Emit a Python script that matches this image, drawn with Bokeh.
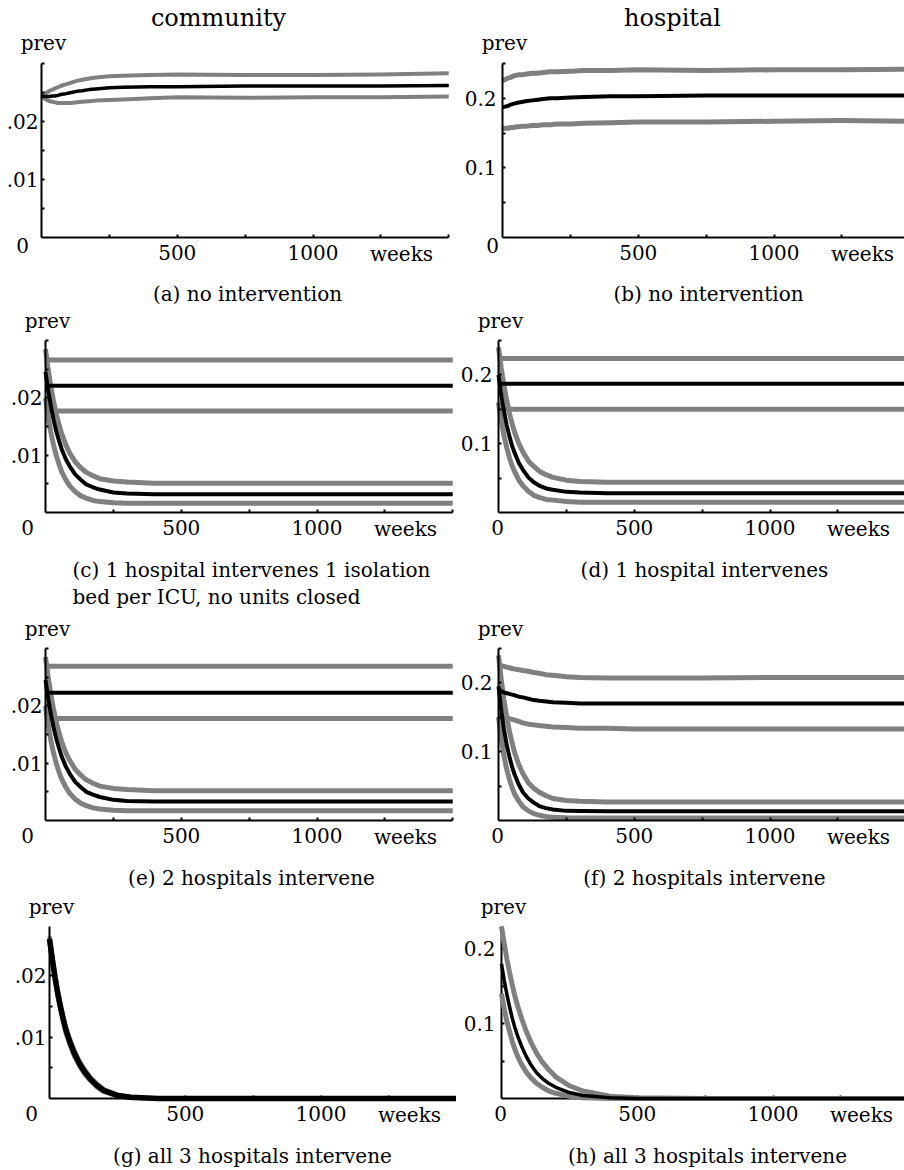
from bokeh.plotting import figure
from bokeh.layouts import column, row
from bokeh.models import Range1d, FixedTicker, Label
from bokeh.embed import file_html
from bokeh.resources import INLINE

# ---------------- data ----------------
WEEKS = [0, 10, 20, 30, 40, 50, 60, 75, 90, 110, 130, 150, 175, 200, 250, 300, 400, 500, 750, 1000, 1250, 1500]

# (a) community, no intervention
A_MID = [0.0244, 0.0243, 0.0243, 0.0243, 0.0244, 0.0244, 0.0245, 0.0247, 0.0248, 0.0250, 0.0252, 0.0253, 0.0255, 0.0256, 0.0258, 0.0259, 0.0260, 0.0260, 0.0261, 0.0261, 0.0261, 0.0262]
A_HI = [0.0244, 0.0247, 0.0250, 0.0253, 0.0255, 0.0257, 0.0259, 0.0262, 0.0264, 0.0267, 0.0270, 0.0272, 0.0274, 0.0276, 0.0278, 0.0279, 0.0280, 0.0281, 0.0280, 0.0280, 0.0281, 0.0283]
A_LO = [0.0244, 0.0240, 0.0237, 0.0235, 0.0234, 0.0233, 0.0232, 0.0232, 0.0232, 0.0232, 0.0233, 0.0234, 0.0235, 0.0236, 0.0237, 0.0238, 0.0240, 0.0242, 0.0241, 0.0242, 0.0242, 0.0243]

# (b) hospital, no intervention
B_MID = [0.187, 0.188, 0.189, 0.191, 0.192, 0.193, 0.194, 0.195, 0.196, 0.197, 0.198, 0.199, 0.200, 0.200, 0.201, 0.202, 0.203, 0.203, 0.204, 0.204, 0.204, 0.204]
B_HI = [0.225, 0.227, 0.229, 0.230, 0.232, 0.233, 0.234, 0.234, 0.235, 0.236, 0.236, 0.237, 0.238, 0.238, 0.239, 0.240, 0.240, 0.241, 0.240, 0.241, 0.241, 0.242]
B_LO = [0.156, 0.157, 0.157, 0.158, 0.158, 0.159, 0.159, 0.160, 0.160, 0.161, 0.161, 0.162, 0.162, 0.163, 0.163, 0.164, 0.165, 0.166, 0.166, 0.167, 0.168, 0.167]

# (c) community, 1 hospital intervenes
C_HI_OFF = [0.0266, 0.0266, 0.0266, 0.0266, 0.0266, 0.0266, 0.0266, 0.0266, 0.0266, 0.0266, 0.0266, 0.0266, 0.0266, 0.0266, 0.0266, 0.0266, 0.0266, 0.0266, 0.0266, 0.0266, 0.0266, 0.0266]
C_MID_OFF = [0.0221, 0.0221, 0.0221, 0.0221, 0.0221, 0.0221, 0.0221, 0.0221, 0.0221, 0.0221, 0.0221, 0.0221, 0.0221, 0.0221, 0.0221, 0.0221, 0.0221, 0.0221, 0.0221, 0.0221, 0.0221, 0.0221]
C_LO_OFF = [0.0177, 0.0177, 0.0177, 0.0177, 0.0177, 0.0177, 0.0177, 0.0177, 0.0177, 0.0177, 0.0177, 0.0177, 0.0177, 0.0177, 0.0177, 0.0177, 0.0177, 0.0177, 0.0177, 0.0177, 0.0177, 0.0177]
C_HI_ON = [0.0285, 0.0249, 0.0219, 0.0193, 0.0171, 0.0153, 0.0137, 0.0118, 0.0103, 0.0088, 0.0078, 0.0070, 0.0064, 0.0059, 0.0055, 0.0053, 0.0051, 0.0051, 0.0051, 0.0051, 0.0051, 0.0051]
C_MID_ON = [0.0245, 0.0212, 0.0185, 0.0161, 0.0141, 0.0125, 0.0110, 0.0093, 0.0080, 0.0066, 0.0057, 0.0049, 0.0044, 0.0040, 0.0035, 0.0033, 0.0032, 0.0032, 0.0032, 0.0032, 0.0032, 0.0032]
C_LO_ON = [0.0200, 0.0167, 0.0139, 0.0117, 0.0099, 0.0084, 0.0071, 0.0057, 0.0046, 0.0036, 0.0029, 0.0025, 0.0021, 0.0019, 0.0017, 0.0016, 0.0016, 0.0016, 0.0016, 0.0016, 0.0016, 0.0016]

# (d) hospital, 1 hospital intervenes
D_HI_OFF = [0.224, 0.224, 0.224, 0.224, 0.224, 0.224, 0.224, 0.224, 0.224, 0.224, 0.224, 0.224, 0.224, 0.224, 0.224, 0.224, 0.224, 0.224, 0.224, 0.224, 0.224, 0.224]
D_MID_OFF = [0.187, 0.187, 0.187, 0.187, 0.187, 0.187, 0.187, 0.187, 0.187, 0.187, 0.187, 0.187, 0.187, 0.187, 0.187, 0.187, 0.187, 0.187, 0.187, 0.187, 0.187, 0.187]
D_LO_OFF = [0.150, 0.150, 0.150, 0.150, 0.150, 0.150, 0.150, 0.150, 0.150, 0.150, 0.150, 0.150, 0.150, 0.150, 0.150, 0.150, 0.150, 0.150, 0.150, 0.150, 0.150, 0.150]
D_HI_ON = [0.240, 0.210, 0.185, 0.163, 0.145, 0.129, 0.116, 0.100, 0.088, 0.075, 0.067, 0.060, 0.055, 0.051, 0.047, 0.045, 0.044, 0.044, 0.044, 0.044, 0.044, 0.044]
D_MID_ON = [0.200, 0.171, 0.148, 0.127, 0.111, 0.097, 0.086, 0.072, 0.062, 0.051, 0.044, 0.039, 0.035, 0.033, 0.030, 0.029, 0.028, 0.028, 0.028, 0.028, 0.028, 0.028]
D_LO_ON = [0.160, 0.134, 0.112, 0.095, 0.080, 0.068, 0.059, 0.047, 0.039, 0.031, 0.025, 0.022, 0.019, 0.018, 0.016, 0.015, 0.015, 0.015, 0.015, 0.015, 0.015, 0.015]

# (e) community, 2 hospitals intervene
E_HI_OFF = [0.0269, 0.0269, 0.0269, 0.0269, 0.0269, 0.0269, 0.0269, 0.0269, 0.0269, 0.0269, 0.0269, 0.0269, 0.0269, 0.0269, 0.0269, 0.0269, 0.0269, 0.0269, 0.0269, 0.0269, 0.0269, 0.0269]
E_MID_OFF = [0.0223, 0.0223, 0.0223, 0.0223, 0.0223, 0.0223, 0.0223, 0.0223, 0.0223, 0.0223, 0.0223, 0.0223, 0.0223, 0.0223, 0.0223, 0.0223, 0.0223, 0.0223, 0.0223, 0.0223, 0.0223, 0.0223]
E_LO_OFF = [0.0178, 0.0178, 0.0178, 0.0178, 0.0178, 0.0178, 0.0178, 0.0178, 0.0178, 0.0178, 0.0178, 0.0178, 0.0178, 0.0178, 0.0178, 0.0178, 0.0178, 0.0178, 0.0178, 0.0178, 0.0178, 0.0178]
E_HI_ON = [0.0285, 0.0249, 0.0219, 0.0193, 0.0171, 0.0153, 0.0137, 0.0118, 0.0104, 0.0089, 0.0079, 0.0071, 0.0065, 0.0060, 0.0056, 0.0054, 0.0052, 0.0052, 0.0052, 0.0052, 0.0052, 0.0052]
E_MID_ON = [0.0245, 0.0212, 0.0185, 0.0162, 0.0142, 0.0126, 0.0111, 0.0094, 0.0081, 0.0067, 0.0058, 0.0050, 0.0045, 0.0041, 0.0036, 0.0034, 0.0033, 0.0033, 0.0033, 0.0033, 0.0033, 0.0033]
E_LO_ON = [0.0200, 0.0167, 0.0139, 0.0117, 0.0099, 0.0084, 0.0072, 0.0058, 0.0047, 0.0037, 0.0030, 0.0026, 0.0022, 0.0020, 0.0018, 0.0017, 0.0017, 0.0017, 0.0017, 0.0017, 0.0017, 0.0017]

# (f) hospital, 2 hospitals intervene
F_HI_OFF = [0.226, 0.225, 0.224, 0.223, 0.222, 0.221, 0.220, 0.219, 0.218, 0.217, 0.215, 0.214, 0.212, 0.211, 0.209, 0.208, 0.207, 0.207, 0.207, 0.208, 0.208, 0.208]
F_MID_OFF = [0.190, 0.188, 0.186, 0.185, 0.184, 0.183, 0.182, 0.180, 0.179, 0.177, 0.175, 0.174, 0.173, 0.172, 0.171, 0.170, 0.170, 0.170, 0.170, 0.170, 0.170, 0.170]
F_LO_OFF = [0.153, 0.152, 0.150, 0.149, 0.148, 0.147, 0.146, 0.144, 0.142, 0.140, 0.139, 0.138, 0.137, 0.136, 0.135, 0.134, 0.134, 0.133, 0.133, 0.133, 0.133, 0.133]
F_HI_ON = [0.240, 0.205, 0.175, 0.151, 0.130, 0.113, 0.098, 0.081, 0.068, 0.055, 0.047, 0.041, 0.036, 0.032, 0.029, 0.028, 0.027, 0.027, 0.027, 0.027, 0.027, 0.027]
F_MID_ON = [0.195, 0.161, 0.133, 0.110, 0.093, 0.078, 0.066, 0.052, 0.041, 0.032, 0.026, 0.021, 0.018, 0.016, 0.014, 0.0137, 0.0135, 0.0135, 0.0135, 0.0135, 0.0135, 0.0135]
F_LO_ON = [0.150, 0.119, 0.094, 0.075, 0.060, 0.048, 0.038, 0.028, 0.020, 0.014, 0.010, 0.0077, 0.0058, 0.0048, 0.0039, 0.0036, 0.0035, 0.0035, 0.0035, 0.0035, 0.0035, 0.0035]

# (g) community, all 3 hospitals intervene
G_HI = [0.0264, 0.0232, 0.0203, 0.0177, 0.0155, 0.0135, 0.0117, 0.0097, 0.0080, 0.0061, 0.0047, 0.0035, 0.0024, 0.0015, 0.0006, 0.0002, 0.0, 0.0, 0.0, 0.0, 0.0, 0.0]
G_MID = [0.0260, 0.0228, 0.0198, 0.0172, 0.0150, 0.0130, 0.0112, 0.0092, 0.0075, 0.0057, 0.0043, 0.0032, 0.0021, 0.0013, 0.0005, 0.0002, 0.0, 0.0, 0.0, 0.0, 0.0, 0.0]
G_LO = [0.0256, 0.0224, 0.0193, 0.0167, 0.0145, 0.0125, 0.0107, 0.0087, 0.0070, 0.0053, 0.0039, 0.0029, 0.0018, 0.0011, 0.0004, 0.0001, 0.0, 0.0, 0.0, 0.0, 0.0, 0.0]

# (h) hospital, all 3 hospitals intervene
H_HI = [0.230, 0.207, 0.186, 0.168, 0.151, 0.136, 0.123, 0.106, 0.091, 0.074, 0.060, 0.049, 0.038, 0.029, 0.017, 0.010, 0.003, 0.001, 0.0, 0.0, 0.0, 0.0]
H_MID = [0.180, 0.158, 0.139, 0.122, 0.107, 0.094, 0.083, 0.069, 0.057, 0.044, 0.034, 0.027, 0.020, 0.015, 0.008, 0.004, 0.001, 0.0, 0.0, 0.0, 0.0, 0.0]
H_LO = [0.140, 0.120, 0.103, 0.089, 0.076, 0.065, 0.056, 0.045, 0.036, 0.027, 0.020, 0.015, 0.010, 0.007, 0.003, 0.001, 0.0, 0.0, 0.0, 0.0, 0.0, 0.0]

# ticks / labels
X_MAX = 1500
X_TICKS = [250, 500, 750, 1000, 1250, 1500]
X_TICK_LABELS = ["", "500", "", "1000", "", ""]
COMM_TOP = 0.03
COMM_Y_TICKS = [0.005, 0.01, 0.015, 0.02, 0.025, 0.03]
COMM_Y_LABELS = ["", ".01", "", ".02", "", ""]
HOSP_TOP = 0.25
HOSP_Y_TICKS = [0.05, 0.1, 0.15, 0.2, 0.25]
HOSP_Y_LABELS = ["", "0.1", "", "0.2", ""]
G_TOP = 0.028
G_Y_TICKS = [0.005, 0.01, 0.015, 0.02, 0.025]
G_Y_LABELS = ["", ".01", "", ".02", ""]
H_TOP = 0.23
H_Y_TICKS = [0.05, 0.1, 0.15, 0.2]
H_Y_LABELS = ["", "0.1", "", "0.2"]
COL_TITLES = ["community", "hospital"]
Y_NAME = "prev"
X_NAME = "weeks"
ZERO = "0"
CAPTIONS = ["(a) no intervention", "(b) no intervention",
            "(c) 1 hospital intervenes 1 isolation", "(d) 1 hospital intervenes",
            "(e) 2 hospitals intervene", "(f) 2 hospitals intervene",
            "(g) all 3 hospitals intervene", "(h) all 3 hospitals intervene"]
CAPTION_C2 = "bed per ICU, no units closed"

# ---------------- layout / styling (pixels) ----------------
FONT = "DejaVu Serif"
GRAY = "#808080"
PPW = 0.2715                      # pixels per week
COL_X = [(0, 456), (456, 448)]    # figure left, width
ROW_Y = [(0, 305), (305, 306), (611, 281), (892, 278)]   # figure top, height
AXIS_Y = [237, 512, 820, 1098]    # page y of the x axis per row
PREV_UP = [21, 20, 20, 20]        # "prev" offset above the frame top, per row
CAP_DOWN = [56, 57, 57, 57]       # caption offset below the x axis, per row
XSTAND = 7


def txt(p, text, dx, dy, x=0, y=0, align="center", baseline="top", size="20px"):
    p.add_layout(Label(x=x, y=y, x_offset=dx, y_offset=dy, text=text,
                       text_align=align, text_baseline=baseline,
                       text_font=FONT, text_font_size=size, text_color="black"))


def panel(col, rw, axis_x, frame_h, ytop, yticks, ylabels, grays, blacks, gw, bw, ystand, top_level=False):
    fl, fw = COL_X[col]
    ft, fh = ROW_Y[rw]
    ay = AXIS_Y[rw]
    upp = ytop / frame_h
    x0 = -(axis_x - fl) / PPW
    x1 = x0 + fw / PPW
    y1 = (ay - ft) * upp
    y0 = -(ft + fh - ay) * upp
    p = figure(width=fw, height=fh, min_border=0, min_border_left=0, min_border_right=0,
               min_border_top=0, min_border_bottom=0, title=None,
               x_range=Range1d(x0, x1), y_range=Range1d(y0, y1),
               toolbar_location=None, output_backend="svg")
    p.outline_line_color = None
    p.xgrid.visible = False
    p.ygrid.visible = False
    p.background_fill_color = "white"
    p.border_fill_color = "white"
    lvl = "overlay" if top_level else "glyph"
    for ys in grays:
        p.line(WEEKS, ys, line_color=GRAY, line_width=gw, line_join="round", level=lvl)
    for ys in blacks:
        p.line(WEEKS, ys, line_color="black", line_width=bw, line_join="round", level=lvl)
    p.xaxis.ticker = FixedTicker(ticks=X_TICKS)
    p.xaxis.major_label_overrides = dict(zip(X_TICKS, X_TICK_LABELS))
    p.yaxis.ticker = FixedTicker(ticks=yticks)
    p.yaxis.major_label_overrides = dict(zip(yticks, ylabels))
    p.xaxis.fixed_location = 0
    p.yaxis.fixed_location = 0
    p.xaxis.bounds = (0, X_MAX)
    p.yaxis.bounds = (0, ytop)
    for ax in (p.xaxis[0], p.yaxis[0]):
        ax.axis_line_width = 2
        ax.axis_line_color = "black"
        ax.major_tick_in = 3
        ax.major_tick_out = 0
        ax.major_tick_line_width = 2
        ax.major_tick_line_color = "black"
        ax.minor_tick_line_color = None
        ax.major_label_text_font = FONT
        ax.major_label_text_font_size = "20px"
        ax.major_label_text_color = "black"
    p.xaxis.major_label_standoff = XSTAND
    p.yaxis.major_label_standoff = ystand
    txt(p, Y_NAME, 2, PREV_UP[rw], y=ytop, baseline="alphabetic")
    txt(p, X_NAME, 360, -XSTAND + 3)
    return p


pa = panel(0, 0, 41, 174, COMM_TOP, COMM_Y_TICKS, COMM_Y_LABELS, [A_HI, A_LO], [A_MID], 4, 3.5, 3)
pb = panel(1, 0, 502, 174, HOSP_TOP, HOSP_Y_TICKS, HOSP_Y_LABELS, [B_HI, B_LO], [B_MID], 5, 4, 6)
pc = panel(0, 1, 45, 172, COMM_TOP, COMM_Y_TICKS, COMM_Y_LABELS,
           [C_HI_OFF, C_LO_OFF, C_HI_ON, C_LO_ON], [C_MID_OFF, C_MID_ON], 5, 4, 3)
pd = panel(1, 1, 498, 172, HOSP_TOP, HOSP_Y_TICKS, HOSP_Y_LABELS,
           [D_HI_OFF, D_LO_OFF, D_HI_ON, D_LO_ON], [D_MID_OFF, D_MID_ON], 5, 4, 6)
pe = panel(0, 2, 45, 172, COMM_TOP, COMM_Y_TICKS, COMM_Y_LABELS,
           [E_HI_OFF, E_LO_OFF, E_HI_ON, E_LO_ON], [E_MID_OFF, E_MID_ON], 5, 4, 3)
pf = panel(1, 2, 498, 172, HOSP_TOP, HOSP_Y_TICKS, HOSP_Y_LABELS,
           [F_HI_OFF, F_LO_OFF, F_HI_ON, F_LO_ON], [F_MID_OFF, F_MID_ON], 5, 4, 6)
pg = panel(0, 3, 49, 172, G_TOP, G_Y_TICKS, G_Y_LABELS, [G_HI, G_LO], [G_MID], 4.5, 5.5, 3)
ph = panel(1, 3, 501, 172, H_TOP, H_Y_TICKS, H_Y_LABELS, [H_HI, H_LO], [H_MID], 5, 3.5, 6,
           top_level=True)

panels = [pa, pb, pc, pd, pe, pf, pg, ph]

# column titles
txt(pa, COL_TITLES[0], 177, 46, y=COMM_TOP, baseline="alphabetic", size="24px")
txt(pb, COL_TITLES[1], 170, 46, y=HOSP_TOP, baseline="alphabetic", size="24px")

# "0" at the origin
txt(pa, ZERO, -19, 0)
txt(pb, ZERO, -10, 0)
for p in (pc, pe, pg):
    txt(p, ZERO, -18, -XSTAND)
for p in (pd, pf, ph):
    txt(p, ZERO, -1, -XSTAND)

# captions
for i, p in enumerate(panels):
    down = CAP_DOWN[i // 2]
    if i == 2:
        txt(p, CAPTIONS[i], 27, -down, align="left", baseline="middle")
        txt(p, CAPTION_C2, 27, -down - 27, align="left", baseline="middle")
    elif i == 6:
        txt(p, CAPTIONS[i], 203, -down, baseline="middle")
    else:
        txt(p, CAPTIONS[i], 206, -down, baseline="middle")

layout = column(row(pa, pb), row(pc, pd), row(pe, pf), row(pg, ph))

open("out.html", "w").write(file_html(layout, INLINE))
